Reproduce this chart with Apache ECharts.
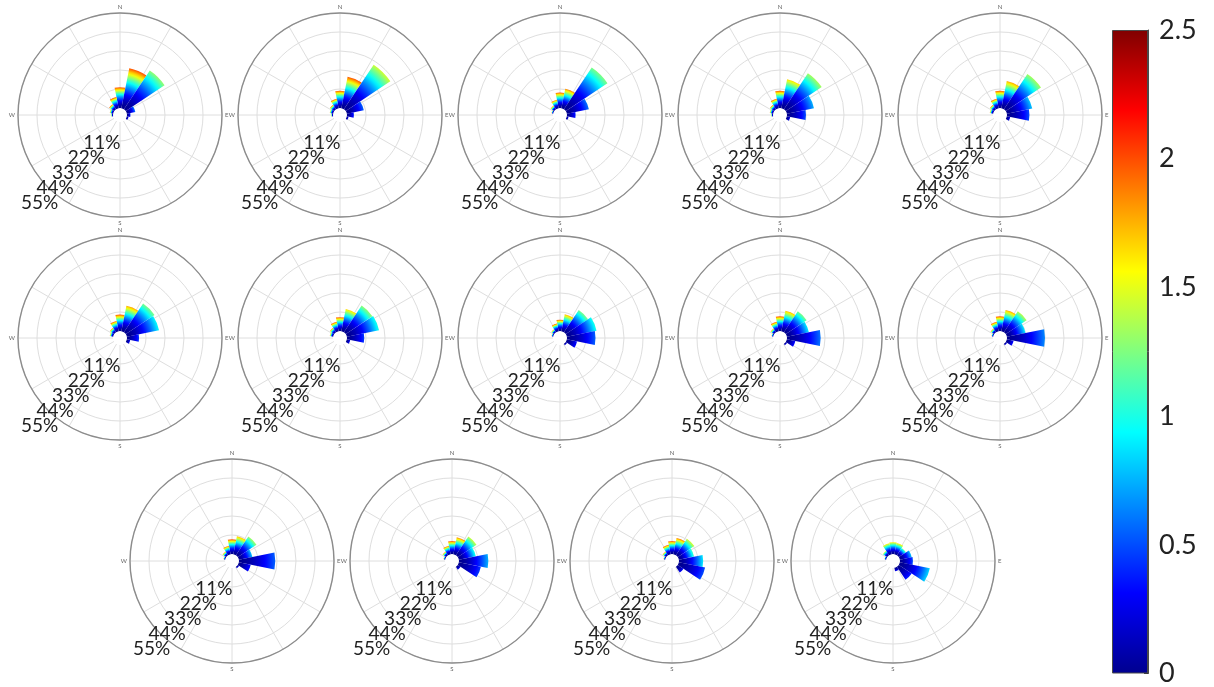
<!DOCTYPE html>
<html>
<head>
<meta charset="utf-8">
<script src="https://cdn.jsdelivr.net/npm/echarts@6/dist/echarts.min.js"></script>
<style>
  html, body { margin: 0; padding: 0; background: #ffffff; }
  #chart { width: 1214px; height: 687px; }
</style>
</head>
<body>
<div id="chart"></div>
<script>
// ---- Data -----------------------------------------------------------------
// 16 compass sectors (degrees clockwise from north)
const DIRECTIONS    = ['N','NNE','NE','ENE','E','ESE','SE','SSE','S','SSW','SW','WSW','W','WNW','NW','NNW'];
const DIRECTION_DEG = [0, 22.5, 45, 67.5, 90, 112.5, 135, 157.5, 180, 202.5, 225, 247.5, 270, 292.5, 315, 337.5];
const CARDINALS     = { 0: 'N', 90: 'E', 180: 'S', 270: 'W' };

// frequency rings (%) and wind-speed colour scale (m/s)
const RING_STEP  = 11;
const RING_MAX   = 55;
const SPEED_MIN  = 0;
const SPEED_MAX  = 2.5;
const SPEED_STEP = 0.5;

// per-panel frequency (%) of each sector and highest speed reached in it
//                 N    NNE  NE   ENE  E    ESE  SE   SSE  S  SSW SW WSW W    WNW  NW   NNW
const freqP1  = [12,  23.5, 27,  5,   2,   1,   0,   0,   0, 0,  0, 0,  1,   2,   3.5, 6.5];
const speedP1 = [2.0, 2.0, 1.3, 0.6, 0.4, 0.3, 0,   0,   0, 0,  0, 0,  1.5, 1.8, 2.0, 2.0];
const freqP2  = [10,  18.5, 31,  10,  4,   1,   0,   0,   0, 0,  0, 0,  1,   2,   3,   5.5];
const speedP2 = [2.0, 2.0, 1.45,0.55,0.4, 0.3, 0,   0,   0, 0,  0, 0,  1.5, 1.7, 1.9, 2.0];
const freqP3  = [9,   11.5, 29,  13,  5,   1,   0,   0,   0, 0,  0, 0,  0,   1,   2.5, 5];
const speedP3 = [2.0, 1.9, 1.25,0.6, 0.4, 0.3, 0,   0,   0, 0,  0, 0,  0,   1.7, 1.9, 2.0];
const freqP4  = [10,  17,  25,  16,  11,  2,   0,   0,   0, 0,  0, 0,  1,   2,   3,   5.5];
const speedP4 = [2.0, 1.65,1.35,0.75,0.5, 0.3, 0,   0,   0, 0,  0, 0,  1.5, 1.8, 1.9, 2.0];
const freqP5  = [10,  16,  24.5,15,  13,  2,   0,   0,   0, 0,  0, 0,  0,   2,   3,   5.5];
const speedP5 = [2.0, 1.8, 1.35,0.8, 0.5, 0.3, 0,   0,   0, 0,  0, 0,  0,   1.8, 1.9, 2.0];
const freqP6  = [9.5, 15,  20,  19,  7,   2,   0,   0,   0, 0,  0, 0,  0,   2,   3,   6];
const speedP6 = [2.0, 1.8, 1.25,0.95,0.45,0.3, 0,   0,   0, 0,  0, 0,  0,   1.8, 1.9, 2.0];
const freqP7  = [8,   13,  18.5,19,  10,  2,   0,   0,   0, 0,  0, 0,  0,   2,   3,   5.5];
const speedP7 = [2.0, 1.65,1.3, 1.0, 0.45,0.3, 0,   0,   0, 0,  0, 0,  0,   1.8, 1.9, 2.0];
const freqP8  = [6.5, 10,  15.5,17.5,16.5,6,   1,   0,   0, 0,  0, 0,  0,   1,   2,   4.5];
const speedP8 = [2.0, 1.8, 1.25,1.0, 0.55,0.35,0.3, 0,   0, 0,  0, 0,  0,   1.7, 1.9, 2.0];
const freqP9  = [8.5, 12,  14.5,13,  19.5,5,   1,   0,   0, 0,  0, 0,  0,   1,   2.5, 5.5];
const speedP9 = [2.0, 1.75,1.25,0.9, 0.6, 0.35,0.3, 0,   0, 0,  0, 0,  0,   1.7, 1.9, 2.0];
const freqP10 = [8.5, 12.5,14.5,11,  22,  4,   1,   0,   0, 0,  0, 0,  0,   1,   2.5, 5.5];
const speedP10= [2.0, 1.8, 1.4, 0.9, 0.65,0.35,0.3, 0,   0, 0,  0, 0,  0,   1.7, 1.9, 2.0];
const freqP11 = [8.5, 10.5,13,  8,   21,  7,   1,   0,   0, 0,  0, 0,  0,   1,   2.5, 5];
const speedP11= [2.0, 1.75,1.35,0.8, 0.55,0.35,0.3, 0,   0, 0,  0, 0,  0,   1.7, 1.9, 2.0];
const freqP12 = [7.5, 10,  13,  10,  17,  13,  2,   0,   0, 0,  0, 0,  0,   1,   2.5, 5];
const speedP12= [2.0, 1.9, 1.45,1.0, 0.75,0.45,0.3, 0,   0, 0,  0, 0,  0,   1.7, 1.9, 2.0];
const freqP13 = [7.5, 9.5, 11.5,9,   14,  15.5,4,   0,   0, 0,  0, 0,  0,   1,   2.5, 5.5];
const speedP13= [2.0, 1.9, 1.5, 1.1, 0.9, 0.5, 0.3, 0,   0, 0,  0, 0,  0,   1.7, 1.9, 2.0];
const freqP14 = [6.8, 6.5, 5,   7,   7.5, 17.7,9,   2,   0, 0,  0, 0,  0,   1,   3,   6.4];
const speedP14= [1.6, 1.6, 1.2, 0.8, 0.5, 0.85,0.4, 0.3, 0, 0,  0, 0,  0,   1.3, 1.5, 1.6];

const PANELS = [
  [freqP1, speedP1], [freqP2, speedP2], [freqP3, speedP3], [freqP4, speedP4], [freqP5, speedP5],
  [freqP6, speedP6], [freqP7, speedP7], [freqP8, speedP8], [freqP9, speedP9], [freqP10, speedP10],
  [freqP11, speedP11], [freqP12, speedP12], [freqP13, speedP13], [freqP14, speedP14]
];

// ---- Layout ---------------------------------------------------------------
const CENTERS = [
  [120, 115], [340, 115], [560, 115], [780, 115], [1000, 115],
  [120, 338], [340, 338], [560, 338], [780, 338], [1000, 338],
  [232, 561], [452, 561], [672, 561], [893, 561]
];
const HOLE_R  = 7;     // white calm circle in the middle
const OUTER_R = 102;   // 55 % ring
const SECTOR_WIDTH = 22.5;
const PROFILE_EXP = 1.7;   // how the speed colour builds up along a sector
const GRID_GREY = '#dedede';
const RIM_GREY  = '#8c8c8c';

// jet colour map
const JET = [
  [0,     [0, 0, 143]],
  [0.125, [0, 0, 255]],
  [0.375, [0, 255, 255]],
  [0.625, [255, 255, 0]],
  [0.875, [255, 0, 0]],
  [1,     [128, 0, 0]]
];
function jet(t) {
  t = Math.max(0, Math.min(1, t));
  for (let i = 1; i < JET.length; i++) {
    if (t <= JET[i][0]) {
      const [t0, c0] = JET[i - 1], [t1, c1] = JET[i];
      const u = (t - t0) / (t1 - t0);
      const c = c0.map((v, k) => Math.round(v + (c1[k] - v) * u));
      return 'rgb(' + c.join(',') + ')';
    }
  }
  return 'rgb(128,0,0)';
}

// one sector of the rose, coloured from calm (centre) to its top speed (tip)
function renderSector(params, api) {
  const f = api.value(0), deg = api.value(1), vTop = api.value(2);
  if (!(f > 0)) return null;
  const cs = params.coordSys;
  const cx = cs.cx, cy = cs.cy, r0 = cs.r0;
  const tip = api.coord([f, deg]);
  const pa = api.coord([f, deg - SECTOR_WIDTH / 2]);
  const pb = api.coord([f, deg + SECTOR_WIDTH / 2]);
  const rOut = Math.hypot(tip[0] - cx, tip[1] - cy);
  let sa = Math.atan2(pa[1] - cy, pa[0] - cx);
  let ea = Math.atan2(pb[1] - cy, pb[0] - cx);
  while (ea < sa) ea += Math.PI * 2;
  const stops = [];
  const n = 20;
  for (let k = 0; k <= n; k++) {
    const t = k / n;
    const r = r0 + t * (rOut - r0);
    stops.push({ offset: r / rOut, color: jet(vTop * Math.pow(t, PROFILE_EXP) / SPEED_MAX) });
  }
  return {
    type: 'sector',
    shape: { cx: cx, cy: cy, r0: r0, r: rOut, startAngle: sa, endAngle: ea, clockwise: true },
    style: {
      fill: { type: 'radial', x: cx, y: cy, r: rOut, global: true, colorStops: stops },
      stroke: null
    }
  };
}

const FONT = 'Lato, "Open Sans", sans-serif';
const polar = [], angleAxis = [], radiusAxis = [], series = [];
// the calm circle keeps no outline
const ringColors = [ 'rgba(0,0,0,0)', GRID_GREY, GRID_GREY, GRID_GREY, GRID_GREY, GRID_GREY ];

PANELS.forEach(([freq, speed], p) => {
  const [cx, cy] = CENTERS[p];

  // spokes, rings and sectors
  polar.push({ center: [cx, cy], radius: [HOLE_R, OUTER_R] });
  angleAxis.push({
    polarIndex: polar.length - 1,
    type: 'value', min: 0, max: 360, interval: 30,
    startAngle: 90, clockwise: true,
    axisLine: { show: false }, axisTick: { show: false }, axisLabel: { show: false },
    splitLine: { lineStyle: { color: GRID_GREY, width: 1 } }
  });
  radiusAxis.push({
    polarIndex: polar.length - 1,
    type: 'value', min: 0, max: RING_MAX, interval: RING_STEP,
    axisLine: { show: false }, axisTick: { show: false }, axisLabel: { show: false },
    splitLine: { lineStyle: { color: ringColors, width: 1 } }
  });
  series.push({
    type: 'custom',
    coordinateSystem: 'polar',
    polarIndex: polar.length - 1,
    silent: true,
    encode: { radius: 0, angle: 1 },
    data: DIRECTIONS.map((d, i) => [freq[i], DIRECTION_DEG[i], speed[i]]),
    renderItem: renderSector,
    z: 3
  });

  // outer rim with compass letters
  polar.push({ center: [cx, cy], radius: [0, OUTER_R] });
  angleAxis.push({
    polarIndex: polar.length - 1,
    type: 'value', min: 0, max: 360, interval: 30,
    startAngle: 90, clockwise: true, z: 4,
    axisLine: { lineStyle: { color: RIM_GREY, width: 1.4 } },
    axisTick: { show: false },
    splitLine: { show: false },
    axisLabel: {
      fontSize: 6, color: '#666', margin: 3, fontFamily: FONT,
      formatter: v => CARDINALS[v] || ''
    }
  });
  radiusAxis.push({
    polarIndex: polar.length - 1,
    type: 'value', min: 0, max: RING_MAX, show: false
  });

  // ring labels along the south-west ray (one spare step keeps every label visible)
  polar.push({ center: [cx + 16, cy + 13], radius: [0, 108 * (RING_MAX + RING_STEP) / RING_MAX] });
  angleAxis.push({
    polarIndex: polar.length - 1,
    type: 'value', min: 0, max: 360, startAngle: 224, show: false
  });
  radiusAxis.push({
    polarIndex: polar.length - 1,
    type: 'value', min: 0, max: RING_MAX + RING_STEP, interval: RING_STEP, z: 6,
    axisLine: { show: false }, axisTick: { show: false }, splitLine: { show: false },
    axisLabel: {
      showMinLabel: false, showMaxLabel: false, margin: 0, rotate: 0,
      align: 'right', verticalAlign: 'middle',
      fontSize: 19, color: '#222', fontFamily: FONT,
      formatter: v => (v > 0 && v <= RING_MAX) ? v + '%' : ''
    }
  });
});

// colour bar for wind speed
const barStops = JET.map(([o, c]) => ({ offset: o, color: 'rgb(' + c.join(',') + ')' }));
series.push({
  type: 'bar',
  xAxisIndex: 0, yAxisIndex: 0,
  data: [SPEED_MAX],
  barWidth: '100%',
  silent: true,
  itemStyle: {
    color: { type: 'linear', x: 0, y: 1, x2: 0, y2: 0, colorStops: barStops },
    borderColor: '#4a4a4a', borderWidth: 1
  }
});

const chart = echarts.init(document.getElementById('chart'), null, { renderer: 'canvas' });
chart.setOption({
  backgroundColor: '#ffffff',
  animation: false,
  polar: polar,
  angleAxis: angleAxis,
  radiusAxis: radiusAxis,
  grid: { left: 1112, top: 30, width: 36, height: 648, containLabel: false },
  xAxis: { type: 'category', data: ['wind speed'], show: false },
  yAxis: {
    type: 'value', min: SPEED_MIN, max: SPEED_MAX, interval: SPEED_STEP, position: 'right',
    axisLine: { show: true, lineStyle: { color: '#4a4a4a' } },
    axisTick: { show: true, inside: true, length: 4, lineStyle: { color: '#333' } },
    splitLine: { show: false },
    axisLabel: { fontSize: 27, color: '#222', margin: 11, fontFamily: FONT }
  },
  series: series
});
</script>
</body>
</html>
